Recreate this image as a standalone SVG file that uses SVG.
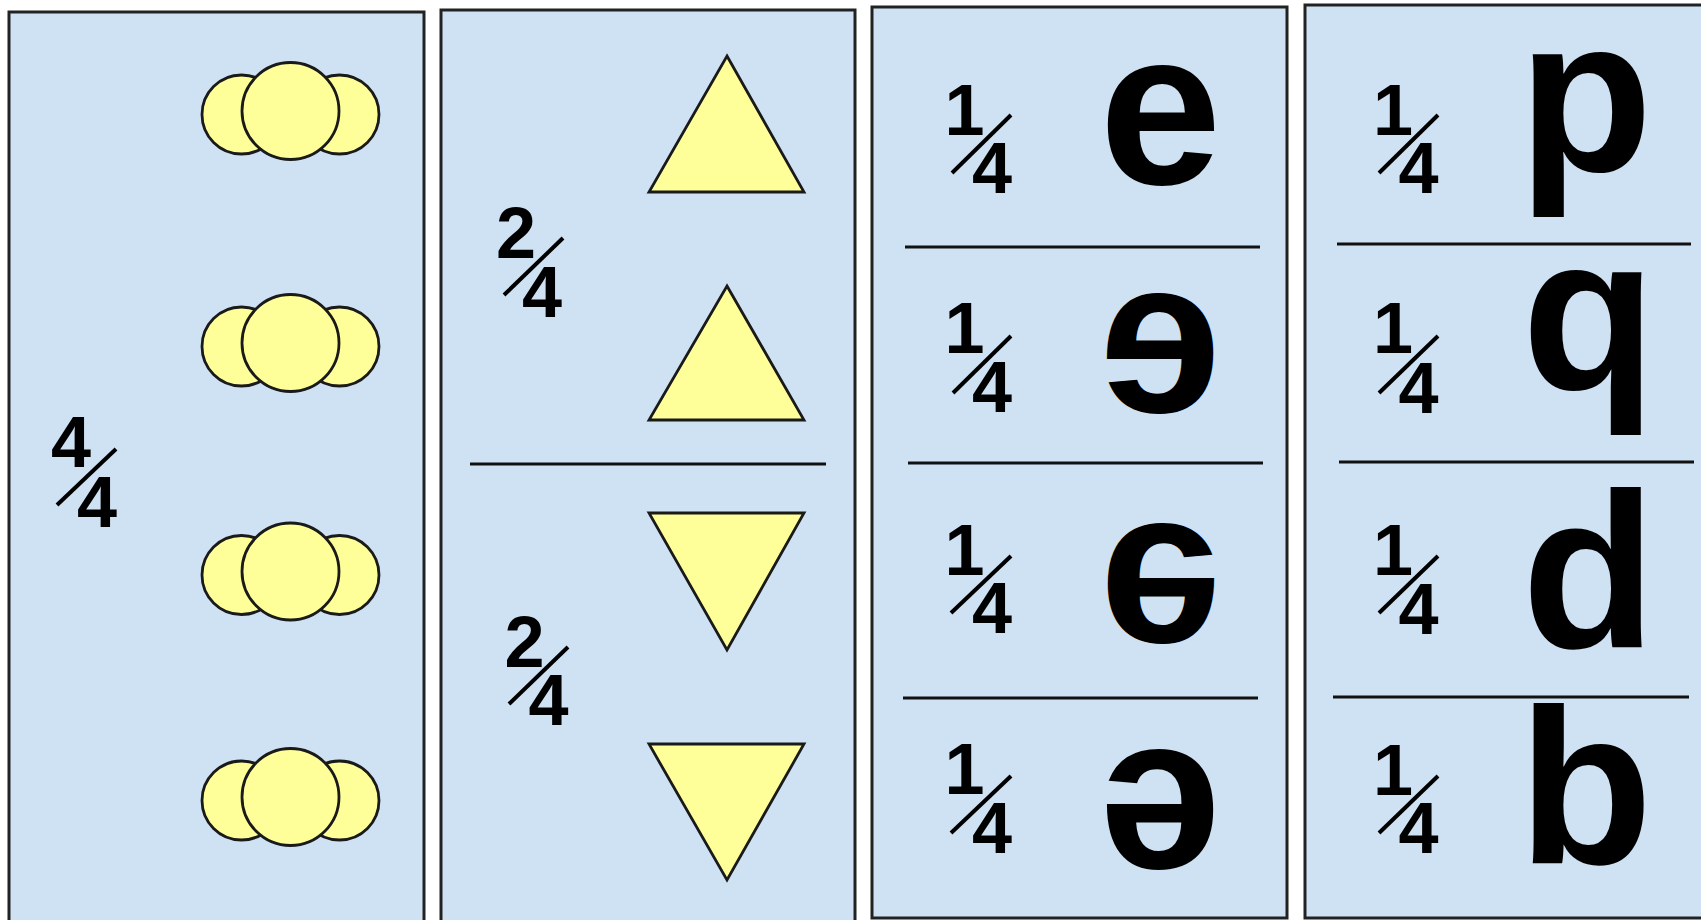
<svg xmlns="http://www.w3.org/2000/svg" width="1701" height="920" viewBox="0 0 1701 920">
<style>
.panel{fill:#cfe2f3;stroke:#222;stroke-width:3}
.shape{fill:#ffff99;stroke:#1a1a1a;stroke-width:2.8;stroke-linejoin:miter}
.div{stroke:#111;stroke-width:3;fill:none}
.fs{stroke:#000;stroke-width:4;fill:none}
.dg{font-family:"Liberation Sans",Arial,sans-serif;font-weight:bold;font-size:72px;text-anchor:middle;fill:#000}
.big{font-family:"Liberation Sans",Arial,sans-serif;font-weight:bold;font-size:220px;text-anchor:middle;fill:#000}
</style>
<rect width="1701" height="920" fill="#fff"/>

<g id="panel-quarters-4">
<rect class="panel" x="9" y="12" width="415" height="930"/>
<g id="frac-4-4">
<text class="dg" x="71" y="467">4</text>
<line class="fs" x1="57" y1="505" x2="116" y2="449"/>
<text class="dg" x="97" y="527">4</text>
</g>
<g id="cloud-1"><circle class="shape" cx="241.5" cy="114.5" r="39.5"/><circle class="shape" cx="339.5" cy="114.5" r="39.5"/><circle class="shape" cx="290.5" cy="111" r="48.5"/></g>
<g id="cloud-2"><circle class="shape" cx="241.5" cy="346.5" r="39.5"/><circle class="shape" cx="339.5" cy="346.5" r="39.5"/><circle class="shape" cx="290.5" cy="343" r="48.5"/></g>
<g id="cloud-3"><circle class="shape" cx="241.5" cy="575" r="39.5"/><circle class="shape" cx="339.5" cy="575" r="39.5"/><circle class="shape" cx="290.5" cy="571.5" r="48.5"/></g>
<g id="cloud-4"><circle class="shape" cx="241.5" cy="800.5" r="39.5"/><circle class="shape" cx="339.5" cy="800.5" r="39.5"/><circle class="shape" cx="290.5" cy="797" r="48.5"/></g>
</g>

<g id="panel-halves">
<rect class="panel" x="441" y="10" width="414" height="930"/>
<line class="div" x1="470" y1="464" x2="826" y2="464"/>
<g id="frac-2-4-top">
<text class="dg" x="516" y="258">2</text>
<line class="fs" x1="504" y1="295" x2="563" y2="238"/>
<text class="dg" x="542" y="317">4</text>
</g>
<g id="frac-2-4-bottom">
<text class="dg" x="524.5" y="667">2</text>
<line class="fs" x1="509" y1="704" x2="568" y2="647"/>
<text class="dg" x="548.5" y="725">4</text>
</g>
<polygon id="tri-up-1" class="shape" points="727,56 804,192 649,192"/>
<polygon id="tri-up-2" class="shape" points="727,286 804,420 649,420"/>
<polygon id="tri-down-1" class="shape" points="649,513 804,513 727,650"/>
<polygon id="tri-down-2" class="shape" points="649,744 804,744 727,880"/>
</g>

<g id="panel-e">
<rect class="panel" x="872" y="7" width="415" height="911"/>
<line class="div" x1="905" y1="247" x2="1260" y2="247"/>
<line class="div" x1="908" y1="463" x2="1263" y2="463"/>
<line class="div" x1="903" y1="698" x2="1258" y2="698"/>
<g id="e-row-1">
<text class="dg" x="964.5" y="135">1</text>
<line class="fs" x1="952" y1="173" x2="1011" y2="115"/>
<text class="dg" x="992" y="193">4</text>
<text class="big" x="1160.5" y="184">e</text>
</g>
<g id="e-row-2">
<text class="dg" x="964.5" y="353">1</text>
<line class="fs" x1="953" y1="393" x2="1011" y2="336"/>
<text class="dg" x="992" y="412">4</text>
<text class="big" x="0" y="57" transform="translate(1160.5,355) scale(-1,1)">e</text>
</g>
<g id="e-row-3">
<text class="dg" x="964.5" y="575">1</text>
<line class="fs" x1="951" y1="613" x2="1011" y2="556"/>
<text class="dg" x="992" y="633">4</text>
<text class="big" x="0" y="57" transform="translate(1160.5,581.5) scale(1,-1)">e</text>
</g>
<g id="e-row-4">
<text class="dg" x="964.5" y="794">1</text>
<line class="fs" x1="951" y1="833" x2="1011" y2="776"/>
<text class="dg" x="992" y="853">4</text>
<text class="big" x="0" y="57" transform="translate(1160.5,808) rotate(180)">e</text>
</g>
</g>

<g id="panel-letters">
<rect class="panel" x="1305" y="5" width="500" height="913"/>
<line class="div" x1="1337" y1="244" x2="1691" y2="244"/>
<line class="div" x1="1339" y1="462" x2="1694" y2="462"/>
<line class="div" x1="1333" y1="697" x2="1689" y2="697"/>
<g id="row-p">
<text class="dg" x="1393" y="135">1</text>
<line class="fs" x1="1379" y1="173" x2="1438" y2="115"/>
<text class="dg" x="1418.5" y="193">4</text>
<text class="big" x="1585.5" y="171">p</text>
</g>
<g id="row-q">
<text class="dg" x="1393" y="353">1</text>
<line class="fs" x1="1379" y1="393" x2="1438" y2="336"/>
<text class="dg" x="1418.5" y="413">4</text>
<text class="big" x="1589" y="389">q</text>
</g>
<g id="row-d">
<text class="dg" x="1393" y="575">1</text>
<line class="fs" x1="1379" y1="613" x2="1438" y2="556"/>
<text class="dg" x="1418.5" y="634">4</text>
<text class="big" x="1589" y="647">d</text>
</g>
<g id="row-b">
<text class="dg" x="1393" y="795">1</text>
<line class="fs" x1="1379" y1="833" x2="1438" y2="776"/>
<text class="dg" x="1418.5" y="853">4</text>
<text class="big" x="1585.5" y="863">b</text>
</g>
</g>
</svg>
